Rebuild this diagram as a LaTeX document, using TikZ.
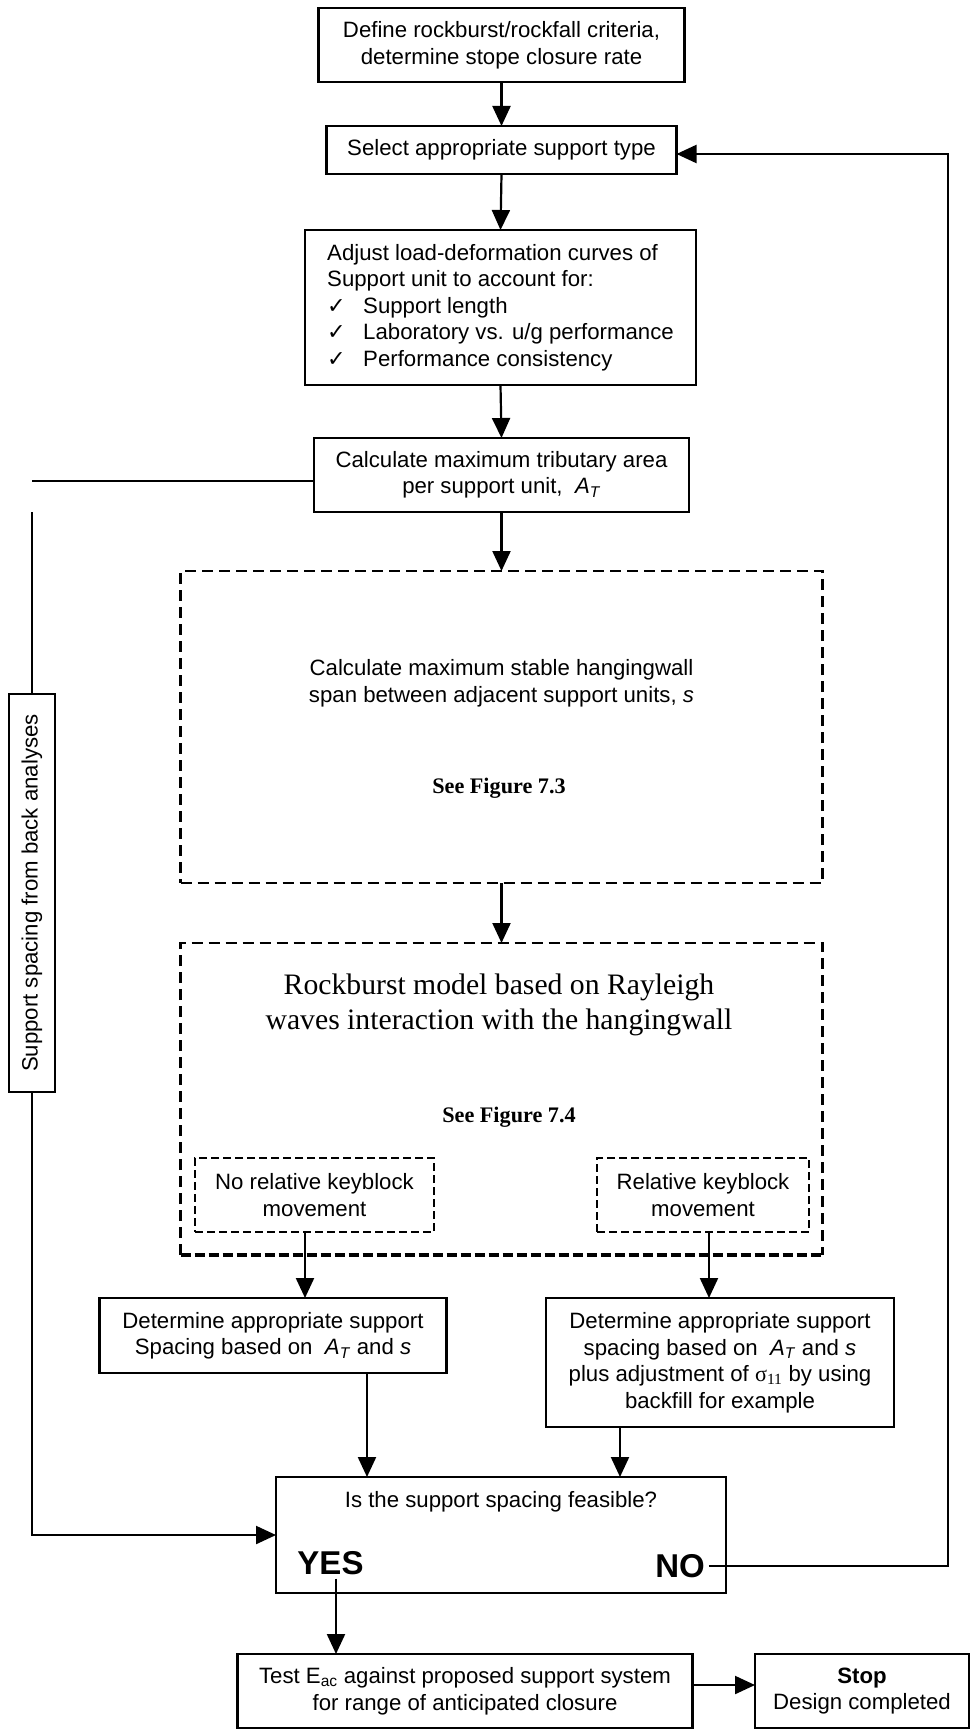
\documentclass[tikz,border=0pt]{standalone}
\usepackage{fontspec}
\setmainfont{Liberation Sans}
\newfontfamily\tnr{Liberation Serif}
\newfontfamily\sym{DejaVu Sans}
\usetikzlibrary{arrows.meta}
\newcommand\AT{\textit{A}\textsubscript{\textit{T}}}
\newcommand\chk{\makebox[36pt][l]{\sym ✓}}
\begin{document}
\begin{tikzpicture}[x=1pt,y=-1pt,
  every node/.style={inner sep=0pt, outer sep=0pt},
  txt/.style={font=\fontsize{22.2}{26.5}\selectfont, align=center},
  box/.style={draw, line width=2.3pt, txt},
  dline/.style={line width=2.6pt, dash pattern=on 11pt off 6pt},
  dbox/.style={draw, dline},
  ibox/.style={draw, line width=2.5pt, dash pattern=on 8pt off 4pt, txt},
  conn/.style={line width=2.2pt},
  arr/.style={conn, -{Triangle[length=20pt,width=18pt]}},
  serifbig/.style={font=\tnr\fontsize{29.7}{35}\selectfont, align=center},
  seefig/.style={font=\tnr\bfseries\fontsize{22.2}{26}\selectfont},
  yn/.style={font=\bfseries\fontsize{33}{36}\selectfont},
]
\useasboundingbox (0,0) rectangle (971,1731);

% main column
\node[box, minimum width=366pt, minimum height=74pt] (b1) at (501.5,45.3)
  {Define rockburst/rockfall criteria,\\determine stope closure rate};
\node[box, minimum width=350pt, minimum height=48pt] (b2) at (501.5,150)
  {Select appropriate support type};
\node[box, minimum width=391pt, minimum height=155pt, align=left] (b3) at (500.5,307.5)
  {Adjust load-deformation curves of\\Support unit to account for:\\\chk Support length\\\chk Laboratory vs. u/g performance\\\chk Performance consistency};
\node[box, minimum width=375pt, minimum height=74pt] (b4) at (501.5,475)
  {Calculate maximum tributary area\\per support unit,\ \ \AT};

% span calculation
\node[dbox, minimum width=642pt, minimum height=312pt] (d1) at (501.5,727) {};
\node[txt] (d1a) at (501.5,683.5)
  {Calculate maximum stable hangingwall\\span between adjacent support units,\ \textit{s}};
\node[seefig] (d1b) at (499,788) {See Figure 7.3};

% rockburst model: three dashed sides and a heavier dashed base
\node[minimum width=642pt, minimum height=312pt] (d2) at (501.5,1099) {};
\draw[dline] (d2.south west) -- (d2.north west) -- (d2.north east) -- (d2.south east);
\draw[line width=4.5pt, dash pattern=on 10pt off 4pt] (d2.south west) -- (d2.south east);
\node[serifbig] (d2a) at (499,1004.5)
  {Rockburst model based on Rayleigh\\waves interaction with the hangingwall};
\node[seefig] (d2b) at (509,1117) {See Figure 7.4};
\node[ibox, minimum width=239pt, minimum height=74pt] (i1) at (314.5,1195)
  {No relative keyblock\\movement};
\node[ibox, minimum width=212pt, minimum height=74pt] (i2) at (703,1195)
  {Relative keyblock\\movement};

% spacing boxes
\node[box, minimum width=347pt, minimum height=75pt] (bl) at (273,1335.5)
  {Determine appropriate support\\Spacing based on\ \ \AT\ and \textit{s}};
\node[box, minimum width=348pt, minimum height=129pt] (br) at (720,1362.5)
  {Determine appropriate support\\spacing based on\ \ \AT\ and \textit{s}\\plus adjustment of {\tnr σ\textsubscript{11}} by using\\backfill for example};

% decision
\node[box, minimum width=450pt, minimum height=116pt] (dec) at (501,1535) {};
\node[txt] (q) at (501,1502) {Is the support spacing feasible?};
\node[yn] (yes) at (330.5,1563) {YES};
\node[yn] (no) at (680,1566) {NO};

% final step
\node[box, minimum width=455pt, minimum height=74pt] (test) at (465,1691)
  {Test E\textsubscript{ac} against proposed support system\\for range of anticipated closure};
\node[box, minimum width=214pt, minimum height=74pt] (stop) at (862,1691)
  {\textbf{Stop}\\Design completed};

% back-analysis side branch
\node[box, rotate=90, minimum width=398pt, minimum height=46pt] (sb) at (32,893)
  {Support spacing from back analyses};
\coordinate (lt) at (32,481);
\coordinate (lv) at (32,512);
\coordinate (rtop) at (948,154);

% connectors
\draw[arr] (b1.south) -- (b2.north);
\draw[arr] (b2.south) -- (b3.north);
\draw[arr] (b3.south) -- (b4.north);
\draw[arr] (b4.south) -- (d1.north);
\draw[arr] (d1.south) -- (d2.north);
\draw[arr] ([xshift=-9.5pt]i1.south) -- ([xshift=-9.5pt]i1.south |- bl.north);
\draw[arr] ([xshift=6pt]i2.south) -- ([xshift=6pt]i2.south |- br.north);
\draw[arr] ([xshift=94pt]bl.south) -- ([xshift=94pt]bl.south |- dec.north);
\draw[arr] ([xshift=-100pt]br.south) -- ([xshift=-100pt]br.south |- dec.north);
\draw[conn] (lt) -- ([yshift=-6pt]b4.west);
\draw[conn] (lv) -- (sb.east);
\draw[arr] (sb.west) |- (dec.west);
\draw[arr] ([xshift=4pt]no.east) -| (rtop) -- ([yshift=-4pt]b2.east);
\draw[arr] ([xshift=5.5pt,yshift=-4pt]yes.south) -- ([xshift=5.5pt]yes.south |- test.north);
\draw[arr] ([yshift=6pt]test.east) -- ([yshift=6pt]stop.west);
\end{tikzpicture}
\end{document}
